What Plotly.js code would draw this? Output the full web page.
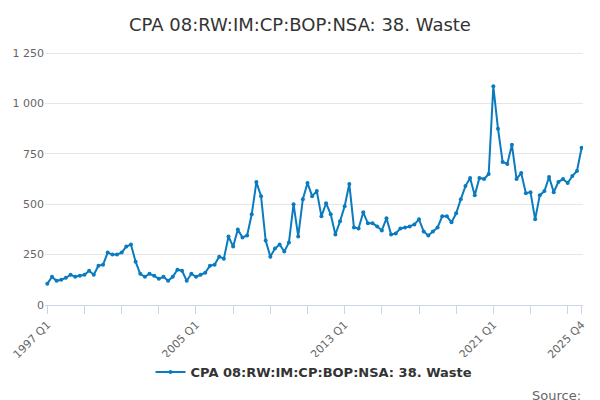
<!DOCTYPE html>
<html>
<head>
<script src="https://cdn.plot.ly/plotly-3.0.1.min.js"></script>
<style>body{margin:0}</style>
</head>
<body>
<div id="chart" style="width:600px;height:400px"></div>
<script>
// quarterly values, 1997 Q1 .. 2026 Q1
const values = [
  105, 140, 120, 125,  135, 150, 140,  145, 150, 170, 150,
  195, 200, 260, 250,  250, 260, 290, 300,  215, 155, 140, 155,
  145, 130, 140,  120, 140, 175, 170,  120, 155, 140, 150,
  160, 195, 200, 240,  230, 340, 290, 375,  335, 345, 450, 610,
  540, 320, 240, 280,  300, 265, 310, 500,  340, 525, 605, 540,
  565, 440, 505, 450,  350, 415, 490, 600,  385, 380, 460, 405,
  405, 390, 370, 430,  350, 355, 380, 385,  390, 400, 425, 365,
  345, 365, 385,  440, 440, 410, 455,  525, 590, 630, 545,
  630, 625, 650, 1085, 875, 710, 700, 795,  625, 655, 555, 560,
  425, 545, 565, 635,  560, 610, 625, 605,  640, 665, 780
];
const startYear = 1997;
const quarters = values.map((v, i) => (startYear + Math.floor(i / 4)) + ' Q' + (i % 4 + 1));
const idx = values.map((v, i) => i);
const labelIdx = [0, 32, 64, 96, values.length - 1];

const data = [{
  x: idx, y: values, text: quarters,
  type: 'scatter', mode: 'lines+markers',
  name: '<b>CPA 08:RW:IM:CP:BOP:NSA: 38. Waste</b>',
  line: {color: '#0a7bbf', width: 2},
  marker: {color: '#0a7bbf', size: 4},
  hovertemplate: '%{text}: %{y}<extra></extra>'
}];

const layout = {
  title: {text: 'CPA 08:RW:IM:CP:BOP:NSA: 38. Waste', font: {family: 'DejaVu Sans', size: 18, color: '#333'}, y: 0.955},
  separators: '. ',
  margin: {l: 45, r: 17, t: 45, b: 95},
  font: {family: 'DejaVu Sans', color: '#666', size: 11},
  xaxis: {
    range: [-0.5, values.length - 0.7],
    tickvals: labelIdx, ticktext: labelIdx.map(i => quarters[i]),
    tickangle: -45, ticks: 'outside', ticklen: 8, tickcolor: '#ccd6eb',
    minor: {dtick: 8, tick0: 0, ticks: 'outside', ticklen: 8, tickcolor: '#ccd6eb'},
    showgrid: false, showline: true, linecolor: '#ccd6eb', zeroline: false
  },
  yaxis: {
    range: [0, 1290], dtick: 250, tickformat: ',',
    gridcolor: '#e6e6e6', zeroline: false
  },
  showlegend: true,
  legend: {orientation: 'h', x: 0.5, xanchor: 'center', y: -0.2, yanchor: 'top',
           font: {size: 13, color: '#333', family: 'DejaVu Sans'}},
  annotations: [{text: 'Source:', xref: 'paper', yref: 'paper', x: 1.0, y: -0.31,
                 xanchor: 'right', yanchor: 'top', showarrow: false, font: {size: 13, color: '#666'}}],
  paper_bgcolor: '#fff', plot_bgcolor: '#fff'
};

Plotly.newPlot('chart', data, layout, {displayModeBar: false});
</script>
</body>
</html>
